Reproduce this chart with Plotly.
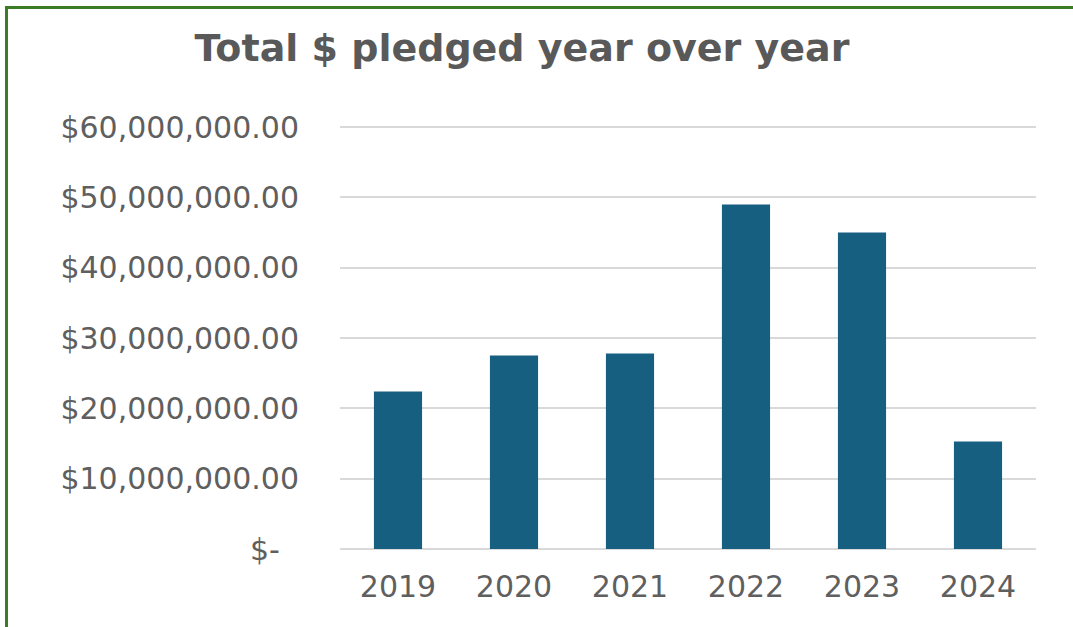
import plotly.graph_objects as go

years = ["2019", "2020", "2021", "2022", "2023", "2024"]
pledged = [22_400_000, 27_500_000, 27_800_000, 49_000_000, 45_000_000, 15_300_000]
y_tick_vals = [0, 10_000_000, 20_000_000, 30_000_000, 40_000_000, 50_000_000, 60_000_000]
y_tick_text = ["$-\u00a0\u00a0", "$10,000,000.00", "$20,000,000.00", "$30,000,000.00",
               "$40,000,000.00", "$50,000,000.00", "$60,000,000.00"]
title_text = "Total $ pledged year over year"

W, H = 1073, 627
ml, mr, mt, mb = 340, 37, 126, 78
pw, ph = W - ml - mr, H - mt - mb

def px_to_paper_x(px):
    return (px - ml) / pw

def px_to_paper_y(py):
    return (H - mb - py) / ph

border = "#3a7d26"
fig = go.Figure(go.Bar(x=years, y=pledged, marker=dict(color="#175f81", line=dict(width=0))))

fig.update_layout(
    width=W, height=H,
    margin=dict(l=ml, r=mr, t=mt, b=mb),
    paper_bgcolor="white", plot_bgcolor="white",
    bargap=0.585,
    showlegend=False,
    title=dict(text="<b>" + title_text + "</b>", x=522 / W, xanchor="center",
               y=1 - 48 / H, yanchor="middle", yref="container",
               font=dict(family="DejaVu Sans", size=38, color="#595959")),
    xaxis=dict(showgrid=False, showline=False, ticks="", zeroline=False,
               tickfont=dict(family="DejaVu Sans", size=30, color="#5f5f5f"),
               ticklabelstandoff=17),
    yaxis=dict(range=[0, 60_150_000], tickvals=y_tick_vals, ticktext=y_tick_text,
               showgrid=True, gridcolor="#d9d9d9", gridwidth=2,
               zeroline=True, zerolinecolor="#d9d9d9", zerolinewidth=2,
               showline=False, ticks="",
               tickfont=dict(family="DejaVu Sans", size=30, color="#5f5f5f"),
               ticklabelstandoff=40),
    shapes=[
        dict(type="line", xref="paper", yref="paper",
             x0=px_to_paper_x(6.5), x1=px_to_paper_x(6.5),
             y0=px_to_paper_y(H + 10), y1=px_to_paper_y(6),
             line=dict(color=border, width=3)),
        dict(type="line", xref="paper", yref="paper",
             x0=px_to_paper_x(5), x1=px_to_paper_x(W + 10),
             y0=px_to_paper_y(7.5), y1=px_to_paper_y(7.5),
             line=dict(color=border, width=3)),
    ],
)

fig.write_html("out.html")
